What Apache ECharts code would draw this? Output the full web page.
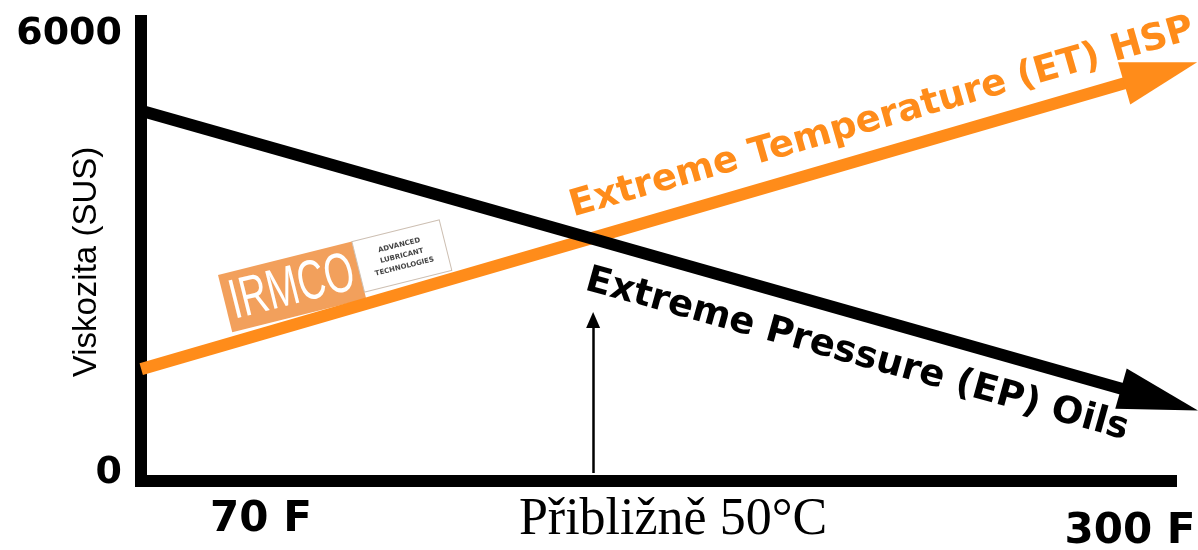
<!DOCTYPE html>
<html>
<head>
<meta charset="utf-8">
<script src="https://cdn.jsdelivr.net/npm/echarts@6/dist/echarts.min.js"></script>
<style>
  html,body{margin:0;padding:0;background:#fff;}
  #chart{width:1198px;height:550px;}
</style>
</head>
<body>
<div id="chart"></div>
<script>
  // tick labels (temperature F, viscosity SUS)
  var xTicks = [70, 300];
  var yTicks = [0, 6000];
  // schematic lines: [x (F), viscosity (SUS)]
  var epLine = [[38.3, 4950], [307.8, 1005]];
  var etLine = [[38.3, 1420], [308.1, 5470]];
  var crossMark = [[157.9, 0], [157.9, 2090]];

  var epName = 'Extreme Pressure (EP) Oils';
  var etName = 'Extreme Temperature (ET) HSP';
  var xName = 'Přibližně 50°C';
  var yName = 'Viskozita (SUS)';

  var black = '#000';
  var orange = '#ff8c1a';
  var deg = Math.PI / 180;

  var myChart = echarts.init(document.getElementById('chart'));
  myChart.setOption({
    animation: false,
    backgroundColor: '#fff',
    grid: {left: 141, right: 27, top: 21, bottom: 69, containLabel: false, outerBoundsMode: 'none'},
    xAxis: {
      type: 'value',
      min: 38.24,
      max: 310.85,
      splitLine: {show: false},
      axisTick: {show: false},
      axisLine: {onZero: false, lineStyle: {color: black, width: 12, cap: 'square'}},
      axisLabel: {
        customValues: xTicks,
        margin: 18,
        verticalAlign: 'top',
        color: black,
        fontFamily: 'DejaVu Sans',
        fontWeight: 'bold',
        fontSize: 42,
        formatter: function (v) {
          return v === 300 ? '{b|' + v + ' F}' : '{a|' + v + ' F}';
        },
        rich: {
          a: {fontSize: 42, fontWeight: 'bold', fontFamily: 'DejaVu Sans', color: black},
          b: {fontSize: 42, fontWeight: 'bold', fontFamily: 'DejaVu Sans', color: black, padding: [12, 0, 0, 0]}
        }
      },
      name: xName,
      nameLocation: 'middle',
      nameGap: 13,
      nameMoveOverlap: false,
      nameTextStyle: {
        fontFamily: '"Liberation Serif", "DejaVu Serif", serif',
        fontSize: 52,
        color: black,
        padding: [0, 0, 0, 34]
      }
    },
    yAxis: {
      type: 'value',
      min: -109,
      max: 6178,
      splitLine: {show: false},
      axisTick: {show: false},
      axisLine: {lineStyle: {color: black, width: 12, cap: 'square'}},
      axisLabel: {
        customValues: yTicks,
        margin: 19,
        color: black,
        fontFamily: 'DejaVu Sans',
        fontWeight: 'bold',
        fontSize: 38,
        formatter: function (v) { return String(v); }
      },
      name: yName,
      nameLocation: 'middle',
      nameRotate: 90,
      nameGap: 38,
      nameMoveOverlap: false,
      nameTextStyle: {
        fontFamily: '"Liberation Sans", Arial, sans-serif',
        fontSize: 33,
        color: black,
        padding: [0, 22, 0, 0]
      }
    },
    series: [
      {
        name: etName,
        type: 'lines',
        coordinateSystem: 'cartesian2d',
        clip: false,
        z: 3,
        symbol: ['none', 'triangle'],
        symbolSize: [0, [44, 76]],
        lineStyle: {color: orange, width: 12, opacity: 1, cap: 'butt'},
        data: [{coords: etLine}]
      },
      {
        name: epName,
        type: 'lines',
        coordinateSystem: 'cartesian2d',
        clip: false,
        z: 4,
        symbol: ['none', 'triangle'],
        symbolSize: [0, [42, 80]],
        lineStyle: {color: black, width: 12, opacity: 1, cap: 'butt'},
        data: [{coords: epLine}]
      },
      {
        name: 'marker',
        type: 'lines',
        coordinateSystem: 'cartesian2d',
        clip: false,
        z: 4,
        symbol: ['none', 'triangle'],
        symbolSize: [0, [14, 16]],
        lineStyle: {color: black, width: 2.5, opacity: 1},
        data: [{coords: crossMark}]
      }
    ],
    graphic: [
      // IRMCO logo
      {
        type: 'group',
        x: 218,
        y: 275,
        rotation: 14 * deg,
        z: 0,
        children: [
          {type: 'rect', shape: {x: 0, y: 0, width: 138, height: 59}, style: {fill: '#f2a05c'}},
          {
            type: 'text', x: 69, y: 31, scaleX: 0.68,
            style: {text: 'IRMCO', fill: '#fff', font: '56px "Liberation Sans"', align: 'center', verticalAlign: 'middle', textAlign: 'center', textVerticalAlign: 'middle'}
          },
          {type: 'rect', shape: {x: 138, y: 0, width: 90, height: 52}, style: {fill: '#fff', stroke: '#cdbfb2', lineWidth: 1}},
          {
            type: 'text', x: 183, y: 26,
            style: {text: 'ADVANCED\nLUBRICANT\nTECHNOLOGIES', fill: '#444', font: 'bold 7px "DejaVu Sans"', lineHeight: 11, align: 'center', verticalAlign: 'middle', textAlign: 'center', textVerticalAlign: 'middle'}
          }
        ]
      },
      {
        type: 'text', x: 882, y: 118, rotation: 16 * deg, z: 5,
        style: {text: etName, fill: orange, font: 'bold 37px "DejaVu Sans"', align: 'center', verticalAlign: 'middle', textAlign: 'center', textVerticalAlign: 'middle'}
      },
      {
        type: 'text', x: 857, y: 355, rotation: -15.5 * deg, z: 5,
        style: {text: epName, fill: black, font: 'bold 37px "DejaVu Sans"', align: 'center', verticalAlign: 'middle', textAlign: 'center', textVerticalAlign: 'middle'}
      }
    ]
  });
</script>
</body>
</html>
